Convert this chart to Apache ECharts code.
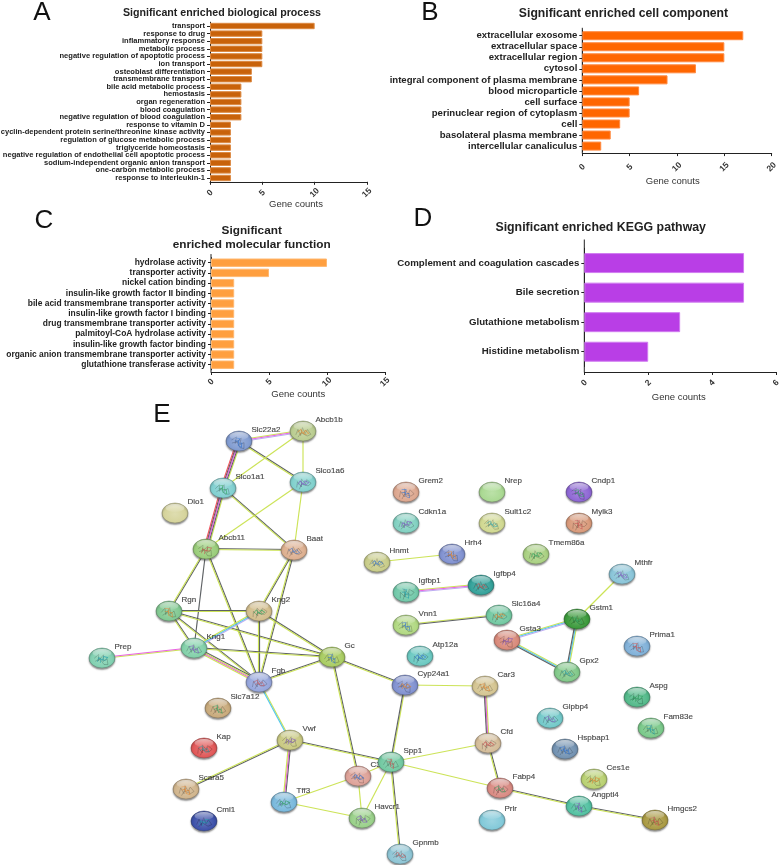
<!DOCTYPE html>
<html><head><meta charset="utf-8">
<script src="https://cdn.jsdelivr.net/npm/echarts@6/dist/echarts.min.js"></script>
<style>html,body{margin:0;padding:0;background:#fff}#c{width:779px;height:865px;filter:blur(.3px)}</style>
</head><body><div id="c"></div>
<script>
// ---- bar data ----
const bpCategories = ['transport','response to drug','inflammatory response','metabolic process','negative regulation of apoptotic process','ion transport','osteoblast differentiation','transmembrane transport','bile acid metabolic process','hemostasis','organ regeneration','blood coagulation','negative regulation of blood coagulation','response to vitamin D','cyclin-dependent protein serine/threonine kinase activity','regulation of glucose metabolic process','triglyceride homeostasis','negative regulation of endothelial cell apoptotic process','sodium-independent organic anion transport','one-carbon metabolic process','response to interleukin-1'];
const bpValues = [10,5,5,5,5,5,4,4,3,3,3,3,3,2,2,2,2,2,2,2,2];
const ccCategories = ['extracellular exosome','extracellular space','extracellular region','cytosol','integral component of plasma membrane','blood microparticle','cell surface','perinuclear region of cytoplasm','cell','basolateral plasma membrane','intercellular canaliculus'];
const ccValues = [17,15,15,12,9,6,5,5,4,3,2];
const mfCategories = ['hydrolase activity','transporter activity','nickel cation binding','insulin-like growth factor II binding','bile acid transmembrane transporter activity','insulin-like growth factor I binding','drug transmembrane transporter activity','palmitoyl-CoA hydrolase activity','insulin-like growth factor binding','organic anion transmembrane transporter activity','glutathione transferase activity'];
const mfValues = [10,5,2,2,2,2,2,2,2,2,2];
const keggCategories = ['Complement and coagulation cascades','Bile secretion','Glutathione metabolism','Histidine metabolism'];
const keggValues = [5,5,3,2];

// ---- network data ----
const nodeNames = ['Slc22a2','Abcb1b','Slco1a1','Slco1a6','Dio1','Abcb11','Baat','Rgn','Kng2','Kng1','Prep','Fgb','Gc','Cyp24a1','Slc7a12','Vwf','Kap','Spp1','C3','Scara5','Tff3','Havcr1','Cml1','Gpnmb','Grem2','Nrep','Cndp1','Cdkn1a','Sult1c2','Mylk3','Hnmt','Hrh4','Tmem86a','Mthfr','Igfbp1','Igfbp4','Vnn1','Slc16a4','Gstm1','Gsta3','Gpx2','Prima1','Atp12a','Car3','Aspg','Glpbp4','Fam83e','Cfd','Hspbap1','Ces1e','Fabp4','Angptl4','Prlr','Hmgcs2'];
const nodeX = [239,303,223,303,175,206,294,169,259,194,102,259,332,405,218,290,204,391,358,186,284,362,204,400,406,492,579,406,492,579,377,452,536,622,406,481,406,499,577,507,567,637,420,485,637,550,651,488,565,594,500,579,492,655];
const nodeY = [441,431,488,482,513,549,550,611,611,648,658,682,657,685,708,740,748,762,776,789,802,818,821,854,492,492,492,523,523,523,562,554,554,574,592,585,625,615,619,640,672,646,656,686,697,718,728,743,749,779,788,806,820,820];
const nodeColors = ['#7f9ad0','#b9cc8f','#7fcfd0','#7fd0cc','#d5d39a','#98cc78','#dcae8e','#80c890','#d2bd8c','#80d0a8','#80d0b0','#95a5dc','#a8cc60','#7f90d0','#c8a97a','#c8c880','#e05555','#70c8a0','#dda096','#d0b48c','#78b8dc','#98d088','#3a4ea8','#8cc4d4','#dca68e','#a8d890','#8c64d4','#80d0c0','#d0d890','#d89878','#c8cc88','#7f90d0','#a8d080','#88c4d8','#70c8a8','#30a098','#b0d880','#70c8a0','#389838','#d88878','#80c888','#7fb0d8','#68c8c0','#d4c490','#50b888','#70c8c8','#78c888','#d4bc98','#7090b0','#b8d070','#d88880','#50c0a0','#80c8d8','#a89840'];
const blankNodes = ['Dio1','Nrep','Prlr'];
const accentColors = ['#2b6fd0','#e0822a','#2aa05a','#7a4fc0','#1a9aa8','#c84a4a'];
const hiddenLabelNodes = ['C3'];
// strand codes: g dark, y lime, p magenta, c cyan, b violet, r red
const edgeList = [
['Slc22a2','Abcb1b','ypb'],['Slc22a2','Slco1a1','ygpgr'],['Slc22a2','Slco1a6','gy'],['Abcb1b','Slco1a1','y'],['Abcb1b','Slco1a6','y'],
['Slco1a1','Abcb11','ygpgr'],['Slco1a1','Baat','gy'],['Slco1a6','Abcb11','y'],['Slco1a6','Baat','y'],['Abcb11','Baat','gy'],
['Abcb11','Rgn','gy'],['Abcb11','Kng1','g'],['Abcb11','Fgb','gy'],['Baat','Kng2','gy'],['Baat','Fgb','gy'],
['Rgn','Kng2','gy'],['Rgn','Kng1','gy'],['Rgn','Fgb','gy'],['Rgn','Gc','gy'],['Kng2','Kng1','bcy'],['Kng2','Fgb','gy'],['Kng2','Gc','gy'],
['Kng1','Prep','yp'],['Kng1','Fgb','gypy'],['Kng1','Gc','gy'],['Fgb','Gc','gy'],['Fgb','Vwf','yc'],['Gc','Cyp24a1','gy'],['Gc','C3','gy'],
['Cyp24a1','Car3','y'],['Cyp24a1','Spp1','yg'],['Car3','Cfd','ypg'],['Vwf','Spp1','gy'],['Vwf','Scara5','gy'],['Vwf','Tff3','gpy'],
['Tff3','C3','y'],['Tff3','Havcr1','y'],['C3','Spp1','y'],['C3','Havcr1','y'],['Spp1','Havcr1','y'],['Spp1','Gpnmb','gy'],['Spp1','Cfd','y'],['Spp1','Fabp4','y'],
['Cfd','Fabp4','gy'],['Fabp4','Angptl4','gy'],['Angptl4','Hmgcs2','gy'],['Hnmt','Hrh4','y'],['Igfbp1','Igfbp4','ypb'],['Vnn1','Slc16a4','yg'],
['Gsta3','Gstm1','ycb'],['Gsta3','Gpx2','ycg'],['Gstm1','Gpx2','ycg'],['Gstm1','Mthfr','y']];
const strandColors = {g:'#55585c',y:'#c9e24e',p:'#e85ae0',c:'#4cc4ec',b:'#b8a8f0',r:'#ee4a55'};

// ---- helpers ----
function shade(hex,t){const n=parseInt(hex.slice(1),16);const f=c=>Math.round(t>0?c+(255-c)*t:c*(1+t));
  return `rgb(${f(n>>16&255)},${f(n>>8&255)},${f(n&255)})`;}
const FF='"Liberation Sans",Arial,sans-serif';
const panels=[
 {cats:bpCategories,vals:bpValues,color:'#c8620a',border:'#dc8a44',left:210,w:157,top:22.2,h:159.6,max:15,int:5,font:7.55,bh:6.4,off:0,m:11},
 {cats:ccCategories,vals:ccValues,color:'#ff6600',border:'#ff8a40',left:582.3,w:189.4,top:30.2,h:121.4,max:20,int:5,font:9.6,bh:9,off:1.5,m:14},
 {cats:mfCategories,vals:mfValues,color:'#ff9f3f',border:'#ffb870',left:211,w:174,top:257.6,h:112.2,max:15,int:5,font:8.45,bh:8.4,off:2.2,m:10},
 {cats:keggCategories,vals:keggValues,color:'#b93ee6',border:'#d07cf0',left:584.3,w:191.7,top:248.3,h:118.2,max:6,int:2,font:9.7,bh:20,off:5.5,m:11}];
const axisNames=[['Gene counts',296,204],['Gene conuts',672.7,181],['Gene counts',298.3,394],['Gene counts',678.7,397]];
const titles=[['Significant enriched biological process',222,13.5,10.65],['Significant enriched cell component',623.5,13.5,12.2],
 ['Significant',251.7,231,11.8],['enriched molecular function',251.7,244.3,11.8],['Significant enriched KEGG pathway',600.7,228,12.35]];
const letters=[['A',42,12.5],['B',430,13],['C',44,221],['D',423,219],['E',162,415]];

const grids=[],xAxes=[],yAxes=[],series=[],graphic=[];
panels.forEach((p,i)=>{
  grids.push({left:p.left,top:p.top,width:p.w,height:p.h,outerBoundsMode:'none'});
  xAxes.push({type:'value',gridIndex:i,min:0,max:p.max,interval:p.int,offset:p.off,splitLine:{show:false},
    axisLine:{show:true,onZero:false,lineStyle:{color:'#222',width:1}},axisTick:{show:true,length:3,lineStyle:{color:'#222'}},
    axisLabel:{rotate:45,margin:p.m,fontFamily:FF,fontWeight:'bold',fontSize:8.5,color:'#333',align:'center',verticalAlign:'middle',showMinLabel:true,showMaxLabel:true,hideOverlap:false}});
  yAxes.push({type:'category',gridIndex:i,inverse:true,data:p.cats,
    axisLine:{show:true,onZero:false,lineStyle:{color:'#222',width:1}},axisTick:{show:true,alignWithLabel:true,length:3,lineStyle:{color:'#222'}},
    axisLabel:{interval:0,margin:5,fontFamily:FF,fontWeight:'bold',fontSize:p.font,color:'#222'}});
  series.push({type:'bar',xAxisIndex:i,yAxisIndex:i,data:p.vals,barWidth:p.bh,silent:true,
    itemStyle:{color:p.color,borderColor:p.border,borderWidth:1}});
  if(p.off>0){ // Prism-style padding: extend the value-axis spine past the bands
    graphic.push({type:'line',silent:true,shape:{x1:p.left,y1:p.top-p.off*1.6,x2:p.left,y2:p.top+p.h+p.off},style:{stroke:'#222',lineWidth:1}});
  }
});
titles.forEach(t=>graphic.push({type:'text',silent:true,style:{text:t[0],x:t[1],y:t[2],align:'center',verticalAlign:'middle',font:`bold ${t[3]}px ${FF}`,fill:'#222'}}));
axisNames.forEach(t=>graphic.push({type:'text',silent:true,style:{text:t[0],x:t[1],y:t[2],align:'center',verticalAlign:'middle',font:`9.5px ${FF}`,fill:'#333'}}));
letters.forEach(t=>graphic.push({type:'text',silent:true,style:{text:t[0],x:t[1],y:t[2],align:'center',verticalAlign:'middle',font:`26px ${FF}`,fill:'#111'}}));

// network panel: data-space axes hidden, full canvas
const NG=panels.length;
grids.push({left:0,top:0,width:779,height:865,outerBoundsMode:'none'});
xAxes.push({type:'value',gridIndex:NG,min:0,max:779,show:false});
yAxes.push({type:'value',gridIndex:NG,min:0,max:865,inverse:true,show:false});

const idx=Object.fromEntries(nodeNames.map((n,i)=>[n,i]));
series.push({type:'custom',xAxisIndex:NG,yAxisIndex:NG,silent:true,z:2,clip:false,
  data:edgeList.map(e=>[idx[e[0]],idx[e[1]]]),encode:{x:[],y:[]},
  renderItem(params,api){
    const e=edgeList[params.dataIndex];
    const a=api.coord([nodeX[idx[e[0]]],nodeY[idx[e[0]]]]), b=api.coord([nodeX[idx[e[1]]],nodeY[idx[e[1]]]]);
    const dx=b[0]-a[0],dy=b[1]-a[1],L=Math.hypot(dx,dy)||1,nx=-dy/L,ny=dx/L,step=1.05,s=e[2];
    const children=[...s].map((c,k)=>{const o=(k-(s.length-1)/2)*step;
      return {type:'line',shape:{x1:a[0]+nx*o,y1:a[1]+ny*o,x2:b[0]+nx*o,y2:b[1]+ny*o},style:{stroke:strandColors[c],lineWidth:1.15,opacity:.95}};});
    return {type:'group',children};
  }});
const labelSeries=(names,z)=>({type:'scatter',xAxisIndex:NG,yAxisIndex:NG,silent:true,z,symbol:'circle',symbolSize:1,
  data:names.map(n=>({value:[nodeX[idx[n]],nodeY[idx[n]]],itemStyle:{color:'transparent'},
    label:{show:true,formatter:n,position:[13,-11],verticalAlign:'middle',align:'left',fontFamily:FF,fontSize:8,color:'#222',textBorderColor:'#222',textBorderWidth:.15}}))});
series.push(labelSeries(hiddenLabelNodes,2.5));
// node bodies
series.push({type:'scatter',xAxisIndex:NG,yAxisIndex:NG,silent:true,z:3,symbol:'circle',symbolSize:[26,20],
  data:nodeNames.map((n,i)=>({value:[nodeX[i],nodeY[i]],
    itemStyle:{color:{type:'radial',x:.5,y:.55,r:.62,colorStops:[{offset:0,color:shade(nodeColors[i],.22)},{offset:.72,color:nodeColors[i]},{offset:1,color:shade(nodeColors[i],-.3)}]},
      borderColor:shade(nodeColors[i],-.35),borderWidth:.5,shadowColor:'rgba(60,60,60,.55)',shadowBlur:1.5,shadowOffsetY:1.6,opacity:1}}))});
// protein-structure scribbles inside each node
series.push({type:'scatter',xAxisIndex:NG,yAxisIndex:NG,silent:true,z:4,
  symbol:'path://M0 6L3 2L5 7L8 1L10 6L13 3L16 7L12 8L6 5L2 8',symbolSize:[15,9],symbolOffset:[0,1],
  data:nodeNames.map((n,i)=>({value:[nodeX[i],nodeY[i]],symbolRotate:(i*37)%60-30,
    itemStyle:{color:'transparent',borderColor:shade(nodeColors[i],-.45),borderWidth:.6,opacity:blankNodes.includes(n)?0:.6}}))});
series.push({type:'scatter',xAxisIndex:NG,yAxisIndex:NG,silent:true,z:4,
  symbol:'path://M0 3L4 0L6 5L9 2L12 6L8 7L5 3L2 6',symbolSize:[11,6],symbolOffset:[0,1],
  data:nodeNames.map((n,i)=>({value:[nodeX[i],nodeY[i]],symbolRotate:(i*53)%90-45,
    itemStyle:{color:'transparent',borderColor:accentColors[i%accentColors.length],borderWidth:.7,opacity:blankNodes.includes(n)?0:.7}}))});
// glossy cap
series.push({type:'scatter',xAxisIndex:NG,yAxisIndex:NG,silent:true,z:5,symbol:'circle',symbolSize:[19,8],symbolOffset:[0,-5],
  data:nodeNames.map((n,i)=>({value:[nodeX[i],nodeY[i]],
    itemStyle:{color:{type:'linear',x:0,y:0,x2:0,y2:1,colorStops:[{offset:0,color:'rgba(255,255,255,.75)'},{offset:1,color:'rgba(255,255,255,.08)'}]}}}))});
series.push(labelSeries(nodeNames.filter(n=>!hiddenLabelNodes.includes(n)),6));

const chart=echarts.init(document.getElementById('c'),null,{renderer:'canvas'});
chart.setOption({animation:false,backgroundColor:'#fff',grid:grids,xAxis:xAxes,yAxis:yAxes,series,graphic:{elements:graphic}});
</script></body></html>
